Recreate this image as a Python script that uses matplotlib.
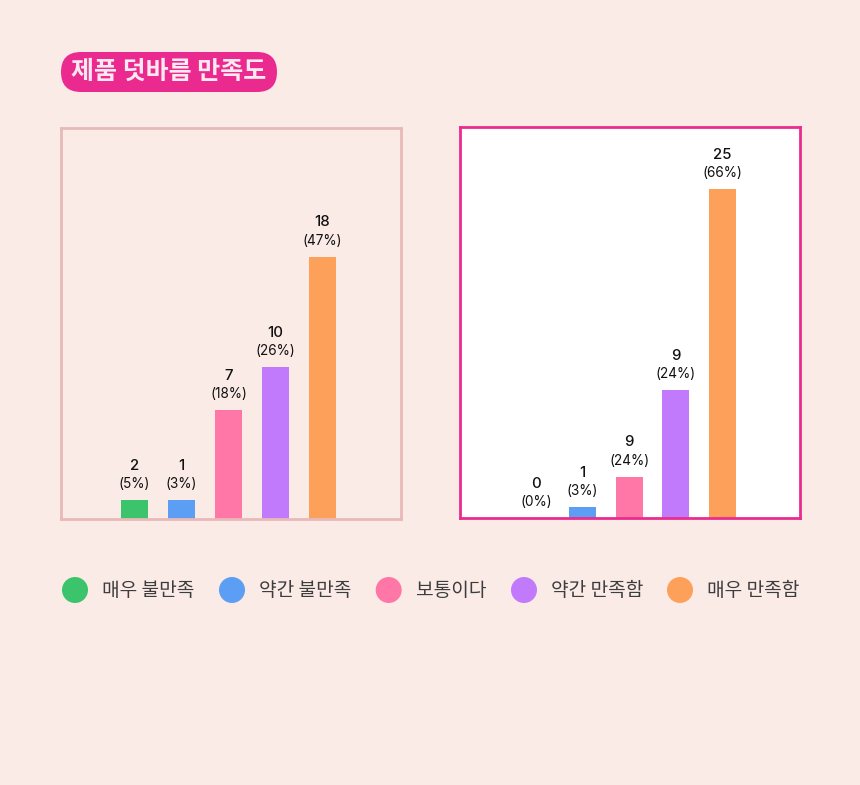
import matplotlib
matplotlib.use('Agg')
import matplotlib.pyplot as plt
from matplotlib.patches import FancyBboxPatch, Circle

plt.rcParams['font.family'] = ['Noto Sans CJK KR', 'DejaVu Sans']

# 데이터
categories = ['매우 불만족', '약간 불만족', '보통이다', '약간 만족함', '매우 만족함']
colors = ['#3bc46b', '#5b9ef3', '#ff77a7', '#c17afc', '#fca05a']

left_counts = [2, 1, 7, 10, 18]
left_pcts = [5, 3, 18, 26, 47]
# 그림에서 읽은 막대 높이 (작은 값은 최소 높이로 그려짐)
left_bar_heights = [1.32, 1.32, 7.49, 10.42, 18]

right_counts = [0, 1, 9, 9, 25]
right_pcts = [0, 3, 24, 24, 66]
right_bar_heights = [0, 0.84, 3.16, 9.72, 25]

W, H = 860, 785
BG = '#fbebe7'
NUM_FONT = ['Inter', 'DejaVu Sans']

fig = plt.figure(figsize=(W / 100, H / 100), dpi=100, facecolor=BG)


def px_axes(x0, y0, x1, y1):
    # 픽셀 좌표(위쪽 기준)로 axes 생성
    return fig.add_axes([x0 / W, 1 - y1 / H, (x1 - x0) / W, (y1 - y0) / H])


def draw_panel(ax, heights, counts, pcts, face, edge, xlim, ylim_top):
    ax.set_facecolor(face)
    x = range(len(heights))
    ax.bar(x, heights, width=0.574, color=colors, zorder=2)
    for i, (h, c, p) in enumerate(zip(heights, counts, pcts)):
        ax.annotate(f'({p}%)', (i, h), xytext=(0, 11.6), textcoords='offset points',
                    ha='center', va='center', fontsize=9.8, color='#111111',
                    family=NUM_FONT)
        ax.annotate(f'{c}', (i, h), xytext=(0, 24.8), textcoords='offset points',
                    ha='center', va='center', fontsize=10.8, fontweight='medium',
                    color='#111111', family=NUM_FONT)
    ax.set_xlim(*xlim)
    ax.set_ylim(0, ylim_top)
    ax.set_xticks([])
    ax.set_yticks([])
    for s in ax.spines.values():
        s.set_color(edge)
        s.set_linewidth(2.0)
        s.set_zorder(3)


ax1 = px_axes(60.7, 127.7, 401.4, 519.3)
draw_panel(ax1, left_bar_heights, left_counts, left_pcts, BG, '#e9b9b9',
           (-1.57, 5.68), 26.84)

ax2 = px_axes(459.7, 126.8, 800.3, 518.3)
draw_panel(ax2, right_bar_heights, right_counts, right_pcts, 'white', '#ea2c8f',
           (-1.637, 5.67), 29.73)

# 제목과 범례용 오버레이
ov = fig.add_axes([0, 0, 1, 1])
ov.set_xlim(0, W)
ov.set_ylim(H, 0)
ov.axis('off')
ov.patch.set_alpha(0)

pill = FancyBboxPatch((61, 52), 216, 40, boxstyle='round,pad=0,rounding_size=20',
                      facecolor='#ea2a8e', edgecolor='none')
ov.add_patch(pill)
ov.text(169, 72, '제품 덧바름 만족도', ha='center', va='center', fontsize=18,
        fontweight='bold', color='#fde9ef')

legend_x = [75, 232, 388.7, 524, 680]
for lx, cat, col in zip(legend_x, categories, colors):
    ov.add_patch(Circle((lx, 590), 13, facecolor=col, edgecolor='none'))
    ov.text(lx + 27.3, 590, cat, ha='left', va='center', fontsize=13.8, color='#3d3d3d')

fig.savefig('out.png', dpi=100, facecolor=BG)
